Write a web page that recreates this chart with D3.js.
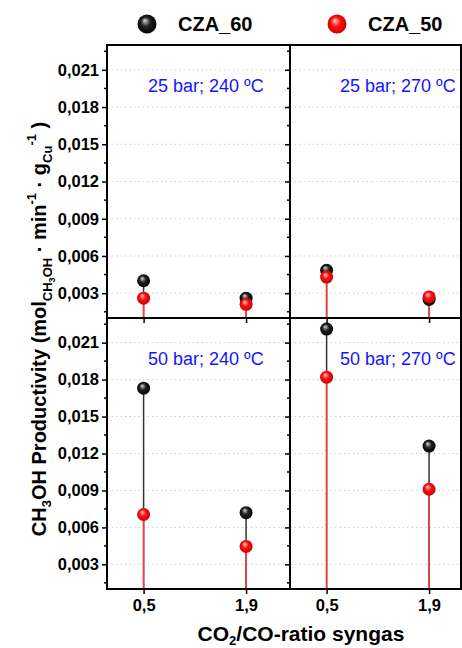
<!DOCTYPE html>
<html>
<head>
<meta charset="utf-8">
<script src="https://cdnjs.cloudflare.com/ajax/libs/d3/7.8.5/d3.min.js"></script>
<style>
  body { margin: 0; background: #fff; }
  text { font-family: "Liberation Sans", Arial, sans-serif; }
</style>
</head>
<body>
<script>
// ratio categories on the x axis
var ratioValues = [0.5, 1.9];
var ratioLabels = ["0,5", "1,9"];

// panel conditions (top-left, top-right, bottom-left, bottom-right)
var panelLabels = ["25 bar; 240 ºC", "25 bar; 270 ºC", "50 bar; 240 ºC", "50 bar; 270 ºC"];

// productivity per panel, per ratio
var cza60 = [[0.0040, 0.0026], [0.00485, 0.0025], [0.0173, 0.0072], [0.0221, 0.0126]];
var cza50 = [[0.0026, 0.0021], [0.0043, 0.0027], [0.00705, 0.00446], [0.0182, 0.0091]];

var yTicks = [0.003, 0.006, 0.009, 0.012, 0.015, 0.018, 0.021];
var yMinor = [0.0015, 0.0045, 0.0075, 0.0105, 0.0135, 0.0165, 0.0195, 0.0225];

var W = 462, H = 648;
var leftX = 107, midX = 290, rightX = 461;
var topY = 45, midY = 318, bottomY = 589;
var panelW = 183;

var svg = d3.select('body').append('svg').attr('width', W).attr('height', H);

var defs = svg.append('defs');
function ball(id, hi, base, edge) {
    var g = defs.append('radialGradient').attr('id', id)
        .attr('cx', '50%').attr('cy', '50%').attr('r', '55%')
        .attr('fx', '38%').attr('fy', '30%');
    g.append('stop').attr('offset', '0%').attr('stop-color', hi);
    g.append('stop').attr('offset', '45%').attr('stop-color', base);
    g.append('stop').attr('offset', '100%').attr('stop-color', edge);
}
ball('gBlack', '#d8d8d8', '#222', '#000');
ball('gRed', '#ffd0d0', '#ff1010', '#c00000');

var x = d3.scaleLinear().domain([0, 2.5]).range([0, panelW]);
var fmt = function (d) { return d3.format('.3f')(d).replace('.', ','); };

var panels = [
    { x0: leftX, y0: topY, y1: midY },
    { x0: midX, y0: topY, y1: midY },
    { x0: leftX, y0: midY, y1: bottomY },
    { x0: midX, y0: midY, y1: bottomY }
];

panels.forEach(function (p, i) {
    var y = d3.scaleLinear().domain([0.001, 0.023]).range([p.y1, p.y0]);
    var g = svg.append('g').attr('transform', 'translate(' + p.x0 + ',0)');
    var w = (p.x0 === midX) ? rightX - midX : panelW;

    // dotted grid
    g.selectAll('.grid').data(yTicks).enter().append('line')
        .attr('x1', 0).attr('x2', w)
        .attr('y1', function (d) { return y(d); })
        .attr('y2', function (d) { return y(d); })
        .attr('stroke', '#d9c9cd').attr('stroke-width', 1)
        .attr('stroke-dasharray', '1.5,3');

    // left axis
    var ax = g.append('g').call(d3.axisLeft(y).tickValues(yTicks).tickSize(5).tickPadding(3)
        .tickFormat(p.x0 === leftX ? fmt : ''));
    ax.select('.domain').remove();
    ax.selectAll('line').attr('stroke', '#000').attr('stroke-width', 1.5);
    ax.selectAll('text').attr('font-size', 16.5).attr('font-weight', 'bold')
        .attr('font-family', '"Liberation Sans", Arial, sans-serif').attr('fill', '#000');
    g.selectAll('.minor').data(yMinor.filter(function (d) { return y(d) > p.y0 && y(d) < p.y1; }))
        .enter().append('line')
        .attr('x1', -3).attr('x2', 0)
        .attr('y1', function (d) { return y(d); })
        .attr('y2', function (d) { return y(d); })
        .attr('stroke', '#000').attr('stroke-width', 1.5);

    // bottom axis
    var bx = g.append('g').attr('transform', 'translate(0,' + p.y1 + ')')
        .call(d3.axisBottom(x).tickValues(ratioValues).tickSize(5).tickPadding(5)
            .tickFormat(p.y1 === bottomY ? function (d, k) { return ratioLabels[k]; } : ''));
    bx.select('.domain').remove();
    bx.selectAll('line').attr('stroke', '#000').attr('stroke-width', 1.5);
    bx.selectAll('text').attr('font-size', 16.5).attr('font-weight', 'bold')
        .attr('font-family', '"Liberation Sans", Arial, sans-serif').attr('fill', '#000');

    var rows = ratioValues.map(function (r, k) {
        return { r: r, a: cza60[i][k], b: cza50[i][k] };
    });

    // drop lines
    g.selectAll('.stemA').data(rows).enter().append('line')
        .attr('x1', function (d) { return x(d.r); }).attr('x2', function (d) { return x(d.r); })
        .attr('y1', p.y1).attr('y2', function (d) { return y(d.a); })
        .attr('stroke', '#333').attr('stroke-width', 1.5);
    g.selectAll('.stemB').data(rows).enter().append('line')
        .attr('x1', function (d) { return x(d.r); }).attr('x2', function (d) { return x(d.r); })
        .attr('y1', p.y1).attr('y2', function (d) { return y(d.b); })
        .attr('stroke', '#ff3a3a').attr('stroke-width', 1.5);

    g.selectAll('.ptA').data(rows).enter().append('circle')
        .attr('cx', function (d) { return x(d.r); })
        .attr('cy', function (d) { return y(d.a); })
        .attr('r', 6.5).attr('fill', 'url(#gBlack)');
    g.selectAll('.ptB').data(rows).enter().append('circle')
        .attr('cx', function (d) { return x(d.r); })
        .attr('cy', function (d) { return y(d.b); })
        .attr('r', 6.5).attr('fill', 'url(#gRed)');

    g.append('text')
        .attr('x', p.x0 === leftX ? 41 : 50)
        .attr('y', p.y0 + 47)
        .attr('font-size', 18).attr('fill', '#1414ff')
        .text(panelLabels[i]);
});

// frame
var frame = svg.append('g').attr('stroke', '#000').attr('stroke-width', 2).attr('fill', 'none');
frame.append('rect').attr('x', leftX).attr('y', topY).attr('width', rightX - leftX).attr('height', bottomY - topY);
frame.append('line').attr('x1', midX).attr('x2', midX).attr('y1', topY).attr('y2', bottomY);
frame.append('line').attr('x1', leftX).attr('x2', rightX).attr('y1', midY).attr('y2', midY);

// legend
var legend = [{ name: 'CZA_60', fill: 'url(#gBlack)', cx: 147 }, { name: 'CZA_50', fill: 'url(#gRed)', cx: 337 }];
legend.forEach(function (l) {
    svg.append('circle').attr('cx', l.cx).attr('cy', 24).attr('r', 9.5).attr('fill', l.fill);
    svg.append('text').attr('x', l.cx + 31).attr('y', 31)
        .attr('font-size', 20).attr('font-weight', 'bold').text(l.name);
});

// rich text helper: parts of [text, size, shift]
function rich(sel, parts) {
    var prev = 0;
    parts.forEach(function (pt) {
        sel.append('tspan').attr('font-size', pt[1]).attr('dy', pt[2] - prev).text(pt[0]);
        prev = pt[2];
    });
}

var xt = svg.append('text').attr('x', 301).attr('y', 641)
    .attr('text-anchor', 'middle').attr('font-weight', 'bold');
rich(xt, [['CO', 21, 0], ['2', 13, 4], ['/CO-ratio syngas', 21, 0]]);

var yt = svg.append('text').attr('transform', 'translate(46,329) rotate(-90)')
    .attr('text-anchor', 'middle').attr('font-weight', 'bold');
rich(yt, [
    ['CH', 20, 0], ['3', 13, 5], ['OH Productivity (mol', 20, 0],
    ['CH', 13, 6], ['3', 9, 9], ['OH', 13, 6],
    [' · min', 20, 0], ['-1', 13, -10], [' · g', 20, 0], ['Cu', 13, 6], ['-1', 13, -10], [' )', 20, 0]
]);
</script>
</body>
</html>
